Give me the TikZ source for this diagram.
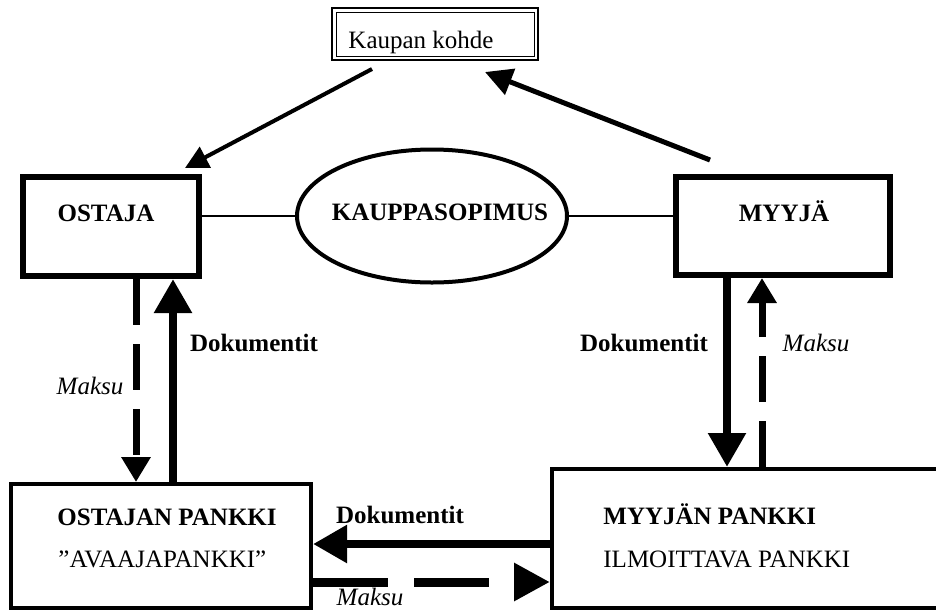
\documentclass[tikz,border=0pt]{standalone}
\usepackage{fontspec}
\setmainfont{Liberation Serif}
\usetikzlibrary{arrows.meta,shapes.geometric,calc}

\begin{document}
\begin{tikzpicture}[x=0.5pt,y=-0.5pt,
  txt/.style={font=\fontsize{12.5}{14}\selectfont, inner sep=0pt, anchor=base},
  txtb/.style={txt, font=\fontsize{12.5}{14}\selectfont\bfseries},
  txti/.style={txt, font=\fontsize{12.5}{14}\selectfont\itshape},
  party/.style={draw, rectangle, line width=3pt, inner sep=0pt},
  bank/.style={draw, rectangle, line width=2pt, inner sep=0pt},
  docarrow/.style={line width=4.2pt, -{Triangle[length=17pt,width=18pt]}},
  payarrow/.style={line width=3.5pt, dash pattern=on 23pt off 9.5pt,
                   -{Triangle[length=12.5pt,width=14pt]}},
  link/.style={line width=0.7pt}]
\useasboundingbox (0,0) rectangle (936,611);

% object of trade, double frame
\node[draw, rectangle, line width=1pt, inner sep=0pt, outer sep=0pt,
      minimum width=103pt, minimum height=26pt] (kohde) at (435,34) {};
\draw[line width=0.5pt] ($(kohde.south west)+(4,-4)$) rectangle ($(kohde.north east)+(-4,4)$);
\node[txt] (tkohde) at (421,48) {Kaupan kohde};

% parties and contract
\node[party, minimum width=88pt, minimum height=49.5pt] (ostaja) at (111,226.5) {};
\node[party, minimum width=107pt, minimum height=49pt] (myyja) at (783,226) {};
\node[draw, ellipse, line width=2pt, inner sep=0pt,
      minimum width=135pt, minimum height=66.5pt] (sopimus) at (432,216) {};
\node[txtb] (tostaja) at (106,221) {OSTAJA};
\node[txtb] (tmyyja) at (784,221) {MYYJÄ};
\node[txtb] (tsopimus) at (440,220) {KAUPPASOPIMUS};

\draw[link] (sopimus.west -| ostaja.east) -- (sopimus.west);
\draw[link] (sopimus.east) -- (sopimus.east -| myyja.west);

% banks
\node[bank, minimum width=150pt, minimum height=62pt] (opankki) at (161,546) {};
\node[bank, minimum width=204pt, minimum height=69.5pt] (mpankki) at (756,538.5) {};
\node[txtb, anchor=base west] (topankki) at (57,525) {OSTAJAN PANKKI};
\node[txt, anchor=base west] (tavaaja) at (58,567) {”AVAAJAPANKKI”};
\node[txtb, anchor=base west] (tmpankki) at (603,524) {MYYJÄN PANKKI};
\node[txt, anchor=base west] (tilmoit) at (603,567) {ILMOITTAVA PANKKI};

% guide lines for the connectors
\coordinate (gLpay) at (136,0);
\coordinate (gLdoc) at (173,0);
\coordinate (gRdoc) at (727,0);
\coordinate (gRpay) at (762,0);
\coordinate (gBdoc) at (0,544);
\coordinate (gBpay) at (0,582);

% delivery of the goods
\draw[line width=2pt, -{Triangle[length=11.5pt,width=11.5pt]}]
  ($(kohde.south)+(-63,9)$) -- ($(ostaja.north)+(74,-6)$);
\draw[line width=2.5pt, -{Triangle[length=13.5pt,width=13.5pt]}]
  ($(myyja.north)+(-73,-14)$) -- ($(kohde.south)+(50,12)$);

% buyer side
\draw[payarrow] (ostaja.south -| gLpay) -- (opankki.north -| gLpay);
\draw[docarrow] (opankki.north -| gLdoc) -- (ostaja.south -| gLdoc);
\node[txti] (lLpay) at (90,394) {Maksu};
\node[txtb] (lLdoc) at (254,351) {Dokumentit};

% seller side
\draw[docarrow] (myyja.south -| gRdoc) -- (mpankki.north -| gRdoc);
\draw[payarrow] (mpankki.north -| gRpay) -- (myyja.south -| gRpay);
\node[txtb] (lRdoc) at (644,351) {Dokumentit};
\node[txti] (lRpay) at (816,351) {Maksu};

% between the banks
\draw[docarrow] (mpankki.west |- gBdoc) -- (opankki.east |- gBdoc);
\draw[line width=4.5pt, dash pattern=on 37.5pt off 13pt,
      -{Triangle[length=18pt,width=18pt]}]
  (opankki.east |- gBpay) -- (mpankki.west |- gBpay);
\node[txtb] (lBdoc) at (400,523) {Dokumentit};
\node[txti] (lBpay) at (370,605) {Maksu};
\end{tikzpicture}
\end{document}
